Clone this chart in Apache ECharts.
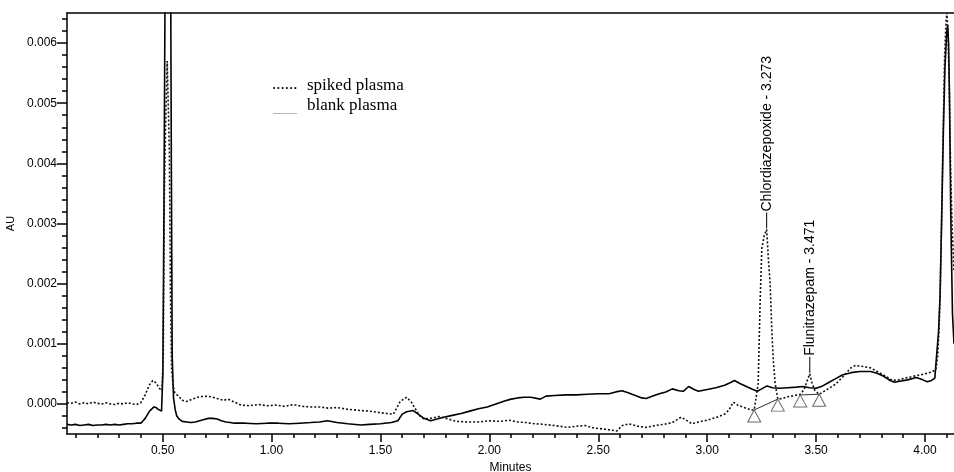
<!DOCTYPE html>
<html>
<head>
<meta charset="utf-8">
<script src="https://cdn.jsdelivr.net/npm/echarts@6/dist/echarts.min.js"></script>
<style>
  html, body { margin: 0; padding: 0; background: #fff; }
  #chart { width: 954px; height: 472px; }
</style>
</head>
<body>
<div id="chart"></div>
<script>
// Retention time (min) / absorbance (AU) pairs for the two injections
const spikedPlasma = [
  [0.061, 0.00002], [0.08, 0.00001], [0.10, 0.00003], [0.12, 0.00000], [0.14, 0.00002],
  [0.16, 0.00000], [0.18, 0.00003], [0.20, 0.00001], [0.22, 0.00000], [0.24, 0.00002],
  [0.26, 0.00000], [0.28, -0.00001], [0.30, 0.00001], [0.32, 0.00000], [0.34, 0.00002],
  [0.36, 0.00000], [0.38, -0.00001], [0.40, 0.00002], [0.42, 0.00015], [0.44, 0.00032],
  [0.455, 0.00039], [0.47, 0.00035], [0.485, 0.00026], [0.497, 0.00022], [0.503, 0.0008],
  [0.508, 0.0035], [0.514, 0.0047], [0.521, 0.0057], [0.526, 0.0057], [0.531, 0.0042],
  [0.536, 0.0018], [0.541, 0.0006], [0.548, 0.0003], [0.556, 0.00018], [0.57, 0.00014],
  [0.59, 0.00006], [0.61, 0.00004], [0.63, 0.00007], [0.66, 0.00011], [0.69, 0.00013],
  [0.72, 0.00012], [0.75, 0.00009], [0.78, 0.00006], [0.80, 0.00008], [0.83, 0.00003],
  [0.86, -0.00002], [0.90, -0.00003], [0.94, -0.00001], [0.98, -0.00003], [1.02, -0.00002],
  [1.06, -0.00004], [1.10, -0.00001], [1.14, -0.00004], [1.18, -0.00005], [1.22, -0.00005],
  [1.26, -0.00007], [1.30, -0.00006], [1.35, -0.00009], [1.41, -0.00011], [1.45, -0.00012],
  [1.49, -0.00014], [1.53, -0.00016], [1.56, -0.00017], [1.59, 0.00004], [1.62, 0.00011],
  [1.64, 0.00004], [1.66, -0.00008], [1.68, -0.0002], [1.70, -0.00025], [1.73, -0.00024],
  [1.77, -0.00021], [1.80, -0.00024], [1.85, -0.00029], [1.90, -0.0003], [1.95, -0.0003],
  [2.00, -0.00028], [2.05, -0.00029], [2.09, -0.00027], [2.13, -0.0003], [2.17, -0.00031],
  [2.21, -0.00033], [2.25, -0.00034], [2.30, -0.00036], [2.36, -0.00039], [2.40, -0.00037],
  [2.44, -0.00036], [2.48, -0.0004], [2.53, -0.00042], [2.585, -0.00045], [2.61, -0.00036],
  [2.64, -0.00033], [2.68, -0.00037], [2.72, -0.00039], [2.76, -0.00036], [2.80, -0.00034],
  [2.84, -0.00031], [2.88, -0.00022], [2.90, -0.00026], [2.93, -0.00033], [2.96, -0.0003],
  [3.00, -0.00027], [3.045, -0.00022], [3.08, -0.00017], [3.10, -0.0001], [3.12, 0.00003],
  [3.14, -0.00002], [3.17, -0.00006], [3.20, -0.0001], [3.216, -0.0001], [3.234, 0.00034],
  [3.243, 0.0017], [3.251, 0.0026], [3.262, 0.0028], [3.273, 0.0029], [3.281, 0.0024],
  [3.289, 0.0020], [3.297, 0.0012], [3.304, 0.0007], [3.312, 0.00034], [3.324, 0.00008],
  [3.345, 0.00009], [3.37, 0.00012], [3.40, 0.00014], [3.427, 0.00016], [3.445, 0.00024],
  [3.46, 0.0004], [3.471, 0.0005], [3.48, 0.00036], [3.495, 0.00022], [3.514, 0.00016],
  [3.55, 0.00024], [3.59, 0.00033], [3.63, 0.00048], [3.66, 0.0006], [3.68, 0.00064],
  [3.72, 0.00062], [3.75, 0.0006], [3.79, 0.00052], [3.82, 0.00046], [3.85, 0.00039],
  [3.88, 0.0004], [3.91, 0.00043], [3.96, 0.00047], [4.00, 0.0005], [4.03, 0.00053],
  [4.05, 0.00057], [4.058, 0.0008], [4.064, 0.0012], [4.070, 0.0019], [4.076, 0.0031],
  [4.083, 0.0045], [4.090, 0.0058], [4.097, 0.0064], [4.101, 0.0065], [4.106, 0.0061],
  [4.111, 0.0053], [4.117, 0.0040], [4.124, 0.0030], [4.133, 0.0022]
];

const blankPlasma = [
  [0.061, -0.00034], [0.08, -0.00035], [0.10, -0.00034], [0.12, -0.00036], [0.14, -0.00035],
  [0.16, -0.00034], [0.18, -0.00036], [0.20, -0.00035], [0.22, -0.00035], [0.24, -0.00034],
  [0.26, -0.00035], [0.28, -0.00034], [0.30, -0.00035], [0.32, -0.00034], [0.34, -0.00033],
  [0.36, -0.00033], [0.38, -0.00032], [0.40, -0.00032], [0.42, -0.00024], [0.44, -0.00012],
  [0.46, -0.00005], [0.47, -0.00006], [0.48, -0.00009], [0.495, -0.00012], [0.501, 0.0005],
  [0.506, 0.0032], [0.512, 0.0075], [0.525, 0.0095], [0.536, 0.0080], [0.540, 0.0040],
  [0.544, 0.0008], [0.550, 0.0001], [0.558, -0.0001], [0.565, -0.0002], [0.575, -0.00025],
  [0.59, -0.00029], [0.61, -0.0003], [0.63, -0.00031], [0.65, -0.0003], [0.67, -0.00028],
  [0.69, -0.00026], [0.71, -0.00024], [0.73, -0.00024], [0.75, -0.00025], [0.77, -0.00028],
  [0.79, -0.0003], [0.81, -0.00031], [0.83, -0.00032], [0.88, -0.00032], [0.93, -0.00033],
  [0.98, -0.00032], [1.03, -0.00032], [1.08, -0.00033], [1.13, -0.00032], [1.18, -0.00031],
  [1.22, -0.0003], [1.257, -0.00028], [1.30, -0.00031], [1.35, -0.00033], [1.41, -0.00035],
  [1.45, -0.00034], [1.50, -0.00033], [1.55, -0.00031], [1.58, -0.00028], [1.60, -0.00017],
  [1.62, -0.00013], [1.65, -0.00011], [1.67, -0.00016], [1.70, -0.00024], [1.73, -0.00028],
  [1.76, -0.00025], [1.79, -0.00022], [1.83, -0.00019], [1.87, -0.00016], [1.91, -0.00012],
  [1.95, -0.00008], [1.99, -0.00005], [2.03, 0.0], [2.07, 0.00005], [2.10, 0.00008],
  [2.13, 0.0001], [2.16, 0.00011], [2.19, 0.00011], [2.234, 0.00008], [2.26, 0.00013],
  [2.30, 0.00014], [2.35, 0.00015], [2.40, 0.00015], [2.45, 0.00016], [2.50, 0.00017],
  [2.55, 0.00017], [2.58, 0.0002], [2.61, 0.00022], [2.64, 0.00018], [2.67, 0.00014],
  [2.70, 0.0001], [2.72, 0.00009], [2.75, 0.00013], [2.78, 0.00017], [2.81, 0.0002],
  [2.84, 0.00025], [2.87, 0.00022], [2.89, 0.00021], [2.915, 0.00029], [2.94, 0.00024],
  [2.96, 0.00021], [3.00, 0.00024], [3.04, 0.00027], [3.08, 0.00031], [3.11, 0.00036],
  [3.125, 0.00039], [3.15, 0.00034], [3.18, 0.00029], [3.21, 0.00024], [3.23, 0.00021],
  [3.25, 0.00025], [3.275, 0.0003], [3.30, 0.00027], [3.33, 0.00026], [3.37, 0.00027],
  [3.41, 0.00028], [3.44, 0.00029], [3.47, 0.00027], [3.50, 0.00026], [3.53, 0.0003],
  [3.56, 0.00036], [3.59, 0.00042], [3.62, 0.00048], [3.66, 0.00052], [3.70, 0.00054],
  [3.75, 0.00054], [3.78, 0.00051], [3.81, 0.00046], [3.84, 0.00039], [3.86, 0.00036],
  [3.89, 0.00038], [3.92, 0.0004], [3.96, 0.00044], [3.99, 0.0004], [4.01, 0.00037],
  [4.03, 0.00039], [4.045, 0.00043], [4.053, 0.0008], [4.062, 0.0012], [4.069, 0.0018],
  [4.076, 0.0030], [4.084, 0.0045], [4.0915, 0.0056], [4.100, 0.0062], [4.104, 0.0063],
  [4.108, 0.0060], [4.112, 0.0052], [4.118, 0.0032], [4.126, 0.0015], [4.133, 0.0010]
];

// Integrated peaks: name, retention time, apex height
const peakNames = ['Chlordiazepoxide - 3.273', 'Flunitrazepam - 3.471'];
const peakTimes = [3.273, 3.471];
const peakHeights = [0.0029, 0.0005];

// Integration start/end markers (time, AU) and the baselines drawn between them
const integrationMarks = [[3.216, -0.0001], [3.324, 0.00008], [3.427, 0.00015], [3.514, 0.00016]];
const baselineChlordiazepoxide = [integrationMarks[0], integrationMarks[1]];
const baselineFlunitrazepam = [integrationMarks[2], integrationMarks[3]];

// Axis ticks
const timeLabels = [0.5, 1.0, 1.5, 2.0, 2.5, 3.0, 3.5, 4.0];
const auLabels = [0, 0.001, 0.002, 0.003, 0.004, 0.005, 0.006];

const minorTime = [];
for (let i = 1; i <= 41; i++) { if (i % 5 !== 0) minorTime.push(i / 10); }
const minorAU = [];
for (let i = -2; i <= 32; i++) { if (i % 5 !== 0) minorAU.push(Math.round(i * 2) / 10000); }

const FONT = '"Liberation Sans", Arial, sans-serif';
const SERIF = '"Liberation Serif", "Times New Roman", serif';
const X_MIN = 0.061, X_MAX = 4.133, Y_MIN = -0.0005, Y_MAX = 0.0065;
const PLOT = { left: 67, right: 0, top: 13, bottom: 38, containLabel: false, outerBoundsMode: 'none' };
const AXIS_W = 1.5;

const chart = echarts.init(document.getElementById('chart'), null, { renderer: 'canvas' });

chart.setOption({
  animation: false,
  backgroundColor: '#fff',
  // grid 0 holds the traces, grid 1 overlays it only to carry the minor ticks and frame top
  grid: [Object.assign({}, PLOT), Object.assign({}, PLOT)],
  xAxis: [
    {
      gridIndex: 0, type: 'value', min: X_MIN, max: X_MAX, position: 'bottom',
      name: 'Minutes', nameLocation: 'middle', nameGap: 27,
      nameTextStyle: { fontFamily: FONT, fontSize: 12, color: '#000' },
      axisLine: { show: true, onZero: false, lineStyle: { color: '#000', width: AXIS_W } },
      axisTick: { show: true, customValues: timeLabels, length: 8, lineStyle: { color: '#000', width: AXIS_W } },
      axisLabel: {
        customValues: timeLabels, margin: 11, fontFamily: FONT, fontSize: 12, color: '#000',
        formatter: v => v.toFixed(2)
      },
      splitLine: { show: false }
    },
    {
      gridIndex: 1, type: 'value', min: X_MIN, max: X_MAX, position: 'bottom',
      axisLine: { show: false, onZero: false },
      axisTick: { show: true, customValues: minorTime, length: 4, lineStyle: { color: '#000', width: AXIS_W } },
      axisLabel: { show: true, customValues: minorTime, formatter: () => '' },
      splitLine: { show: false }
    },
    {
      gridIndex: 1, type: 'value', min: X_MIN, max: X_MAX, position: 'top',
      axisLine: { show: true, onZero: false, lineStyle: { color: '#000', width: AXIS_W } },
      axisTick: { show: false }, axisLabel: { show: false }, splitLine: { show: false }
    }
  ],
  yAxis: [
    {
      gridIndex: 0, type: 'value', min: Y_MIN, max: Y_MAX, position: 'left',
      name: 'AU', nameLocation: 'middle', nameGap: 45, nameRotate: 90,
      nameTextStyle: { fontFamily: FONT, fontSize: 11, color: '#000' },
      axisLine: { show: true, onZero: false, lineStyle: { color: '#000', width: AXIS_W } },
      axisTick: { show: true, customValues: auLabels, length: 10, lineStyle: { color: '#000', width: AXIS_W } },
      axisLabel: {
        customValues: auLabels, margin: 10, fontFamily: FONT, fontSize: 12, color: '#000',
        formatter: v => v.toFixed(3)
      },
      splitLine: { show: false }
    },
    {
      gridIndex: 1, type: 'value', min: Y_MIN, max: Y_MAX, position: 'left',
      axisLine: { show: false, onZero: false },
      axisTick: { show: true, customValues: minorAU, length: 5, lineStyle: { color: '#000', width: AXIS_W } },
      axisLabel: { show: true, customValues: minorAU, formatter: () => '' },
      splitLine: { show: false }
    }
  ],
  graphic: [
    { type: 'text', left: 272, top: 76, style: { text: '......', font: '17px ' + SERIF, fill: '#000' } },
    { type: 'text', left: 307, top: 77, style: { text: 'spiked plasma', font: '17px ' + SERIF, fill: '#000' } },
    { type: 'line', shape: { x1: 273, y1: 113.5, x2: 297, y2: 113.5 }, style: { stroke: '#b5b5b5', lineWidth: 1 } },
    { type: 'text', left: 307, top: 97, style: { text: 'blank plasma', font: '17px ' + SERIF, fill: '#000' } }
  ],
  series: [
    {
      name: 'blank plasma', type: 'line', data: blankPlasma, showSymbol: false, symbol: 'none',
      lineStyle: { color: '#000', width: 1.6 }, clip: true, z: 3
    },
    {
      name: 'spiked plasma', type: 'line', data: spikedPlasma, showSymbol: false, symbol: 'none',
      lineStyle: { color: '#111', width: 1.6, type: [2, 2] }, clip: true, z: 4
    },
    {
      type: 'line', data: baselineChlordiazepoxide, symbol: 'none',
      lineStyle: { color: '#333', width: 1 }, z: 5
    },
    {
      type: 'line', data: baselineFlunitrazepam, symbol: 'none',
      lineStyle: { color: '#333', width: 1 }, z: 5
    },
    {
      type: 'scatter', data: integrationMarks, symbol: 'triangle', symbolSize: [13, 12],
      symbolOffset: [0, '50%'],
      itemStyle: { color: 'rgba(255,255,255,0)', borderColor: '#444', borderWidth: 1 }, z: 6
    },
    {
      type: 'custom', z: 7,
      data: peakTimes.map((t, i) => [t, peakHeights[i]]),
      renderItem: function (params, api) {
        const p = api.coord([api.value(0), api.value(1)]);
        const lead = 17;
        return {
          type: 'group',
          children: [
            { type: 'line', shape: { x1: p[0], y1: p[1] - 1, x2: p[0], y2: p[1] - lead },
              style: { stroke: '#000', lineWidth: 1 } },
            { type: 'text', x: p[0], y: p[1] - lead - 1, rotation: Math.PI / 2,
              style: { text: peakNames[params.dataIndex], font: '14px ' + FONT, fill: '#000',
                       align: 'left', verticalAlign: 'middle' } }
          ]
        };
      }
    }
  ]
});
</script>
</body>
</html>
